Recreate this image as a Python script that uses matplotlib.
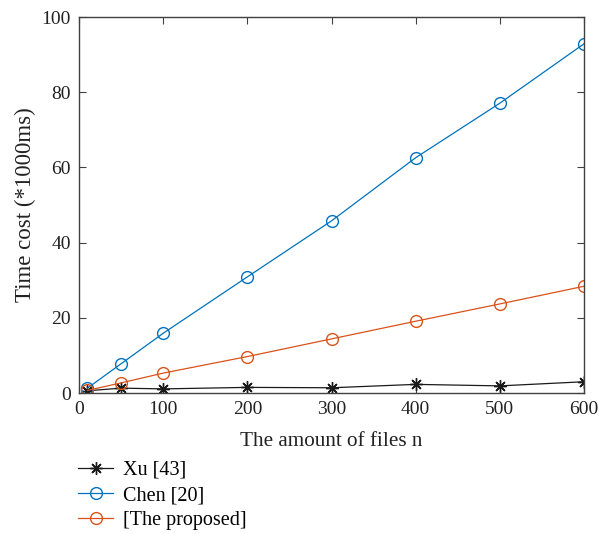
import matplotlib.pyplot as plt

plt.rcParams['font.family'] = ['Liberation Serif', 'DejaVu Serif']

n_files = [10, 50, 100, 200, 300, 400, 500, 600]
xu = [0.6, 1.3, 1.1, 1.5, 1.4, 2.3, 1.9, 3.0]
chen = [1.3, 7.8, 15.9, 30.9, 45.8, 62.6, 77.1, 92.9]
proposed = [0.7, 2.7, 5.3, 9.7, 14.4, 19.1, 23.7, 28.4]

fig = plt.figure(figsize=(5.99, 5.34), dpi=100)
ax = fig.add_axes([0.132, 0.264, 0.843, 0.704])

# 8-spoke asterisk like MATLAB's '*'
star = (8, 2, 0)
ax.plot(n_files, xu, color='#1a1a1a', marker=star, markersize=9, linewidth=0.9,
        markeredgewidth=1.0, label='Xu [43]')
ax.plot(n_files, chen, color='#0072BD', marker='o', markersize=8.5, linewidth=0.9,
        markerfacecolor='none', markeredgewidth=1.0, label='Chen [20]')
ax.plot(n_files, proposed, color='#D95319', marker='o', markersize=8.5, linewidth=0.9,
        markerfacecolor='none', markeredgewidth=1.0, label='[The proposed]')

ax.set_xlim(0, 600)
ax.set_ylim(0, 100)
ax.set_xticks(range(0, 601, 100))
ax.set_yticks(range(0, 101, 20))
ax.tick_params(direction='in', top=True, right=True, labelsize=14,
               color='#404040', labelcolor='#222222', length=5, pad=6)
for s in ax.spines.values():
    s.set_color('#404040')
    s.set_linewidth(1.0)

ax.set_xlabel('The amount of files n', fontsize=15.2, color='#222222', labelpad=10)
ax.set_ylabel('Time cost (*1000ms)', fontsize=16.5, color='#222222', labelpad=4)

fig.legend(loc='upper left', bbox_to_anchor=(0.117, 0.152), frameon=False,
           fontsize=14.5, handlelength=1.75, labelspacing=0.3, handletextpad=0.5,
           borderaxespad=0)

fig.savefig('out.png', dpi=100)
